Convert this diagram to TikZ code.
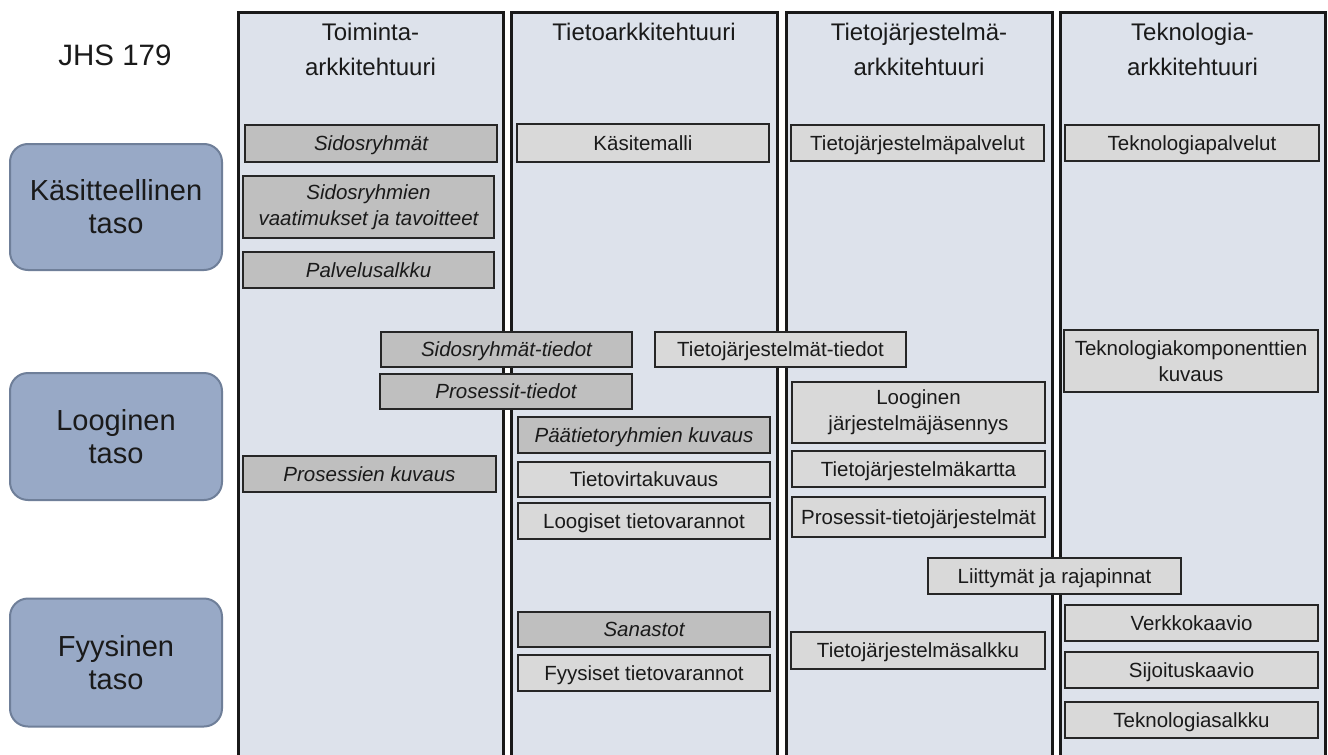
\documentclass[tikz,border=0pt]{standalone}
\usepackage{fontspec}
\setmainfont{Liberation Sans}
\definecolor{colfill}{HTML}{DDE2EB}
\definecolor{darkbox}{HTML}{BFBFBF}
\definecolor{lightbox}{HTML}{D9D9D9}
\definecolor{boxline}{HTML}{262626}
\definecolor{lvlfill}{HTML}{98A9C6}
\definecolor{lvlline}{HTML}{6F7F99}
\definecolor{txt}{HTML}{1A1A1A}
\begin{document}
\begin{tikzpicture}[x=1pt,y=-1pt,
  column/.style={fill=colfill},
  colborder/.style={draw=black!90,line width=3pt},
  coltitle/.style={anchor=north,align=center,inner sep=0pt,text=txt,font=\fontsize{24}{34.5}\selectfont},
  abox/.style={draw=boxline,line width=1.4pt,inner sep=0pt,align=center,text=txt,
    minimum width=252pt,minimum height=36pt,font=\fontsize{20.5}{26}\selectfont,
    text height=14.7pt,text depth=0pt},
  multi/.style={text height=,text depth=},
  dbox/.style={abox,fill=darkbox,font=\fontsize{20.5}{26}\selectfont\itshape},
  lbox/.style={abox,fill=lightbox},
  level/.style={draw=lvlline,line width=2pt,fill=lvlfill,rounded corners=18pt,
    minimum width=212pt,minimum height=126pt,align=center,inner sep=0pt,text=txt,
    font=\fontsize{29}{33}\selectfont}
]
\useasboundingbox (0,0) rectangle (1328,755);
\fill[white] (0,0) rectangle (1328,755);

% columns
\foreach \xa/\xb in {238/503,511/777,786/1052,1060/1325}{
  \fill[column] (\xa,12) rectangle (\xb,755);
  \draw[colborder] (\xa,756) -- (\xa,12) -- (\xb,12) -- (\xb,756);
}

% column titles
\node[coltitle] (c1) at (370.5,23) {Toiminta-\\arkkitehtuuri};
\node[coltitle] (c2) at (644,23) {Tietoarkkitehtuuri};
\node[coltitle] (c3) at (919,23) {Tietojärjestelmä-\\arkkitehtuuri};
\node[coltitle] (c4) at (1192.5,23) {Teknologia-\\arkkitehtuuri};

% title and levels
\node[text=txt,font=\fontsize{29.5}{33}\selectfont,inner sep=0pt] (jhs) at (115,55) {JHS 179};
\node[level] (L1) at (116,207) {Käsitteellinen\\taso};
\node[level,minimum height=127pt] (L2) at (116,436.5) {Looginen\\taso};
\node[level,minimum height=128pt] (L3) at (116,662.5) {Fyysinen\\taso};

% column 1
\node[dbox,minimum height=37pt] (S1) at (371,143.5) {Sidosryhmät};
\node[dbox,multi,minimum width=251pt,minimum height=62pt] (S2) at (368.5,207) {Sidosryhmien\\vaatimukset ja tavoitteet};
\node[dbox,minimum width=251pt] (S3) at (368.5,270) {Palvelusalkku};
\node[dbox,minimum width=251pt,minimum height=35pt] (S4) at (506.5,349.5) {Sidosryhmät-tiedot};
\node[dbox,minimum height=35pt] (S5) at (506,391.5) {Prosessit-tiedot};
\node[dbox,minimum width=253pt] (S6) at (369.5,474) {Prosessien kuvaus};

% column 2
\node[lbox,minimum height=38pt] (T1) at (643,143) {Käsitemalli};
\node[lbox,minimum width=251pt,minimum height=35pt] (T2) at (780.5,349.5) {Tietojärjestelmät-tiedot};
\node[dbox] (T3) at (644,435) {Päätietoryhmien kuvaus};
\node[lbox,minimum height=35pt] (T4) at (644,479.5) {Tietovirtakuvaus};
\node[lbox] (T5) at (644,521) {Loogiset tietovarannot};
\node[dbox,minimum height=35pt] (T6) at (644,629.5) {Sanastot};
\node[lbox] (T7) at (644,673) {Fyysiset tietovarannot};

% column 3
\node[lbox,minimum width=253pt] (J1) at (917.5,143) {Tietojärjestelmäpalvelut};
\node[lbox,multi,minimum width=253pt,minimum height=61pt] (J2) at (918.5,412.5) {Looginen\\järjestelmäjäsennys};
\node[lbox,minimum width=253pt] (J3) at (918.5,469) {Tietojärjestelmäkartta};
\node[lbox,minimum width=253pt,minimum height=40pt] (J4) at (918.5,517) {Prosessit-tietojärjestelmät};
\node[lbox,minimum width=253pt] (J5) at (1054.5,576) {Liittymät ja rajapinnat};
\node[lbox,minimum width=254pt,minimum height=37pt] (J6) at (918,650.5) {Tietojärjestelmäsalkku};

% column 4
\node[lbox,minimum width=254pt] (K1) at (1192,143) {Teknologiapalvelut};
\node[lbox,multi,minimum width=254pt,minimum height=62pt] (K2) at (1191,361) {Teknologiakomponenttien\\kuvaus};
\node[lbox,minimum width=253pt] (K3) at (1191.5,623) {Verkkokaavio};
\node[lbox,minimum width=253pt] (K4) at (1191.5,670) {Sijoituskaavio};
\node[lbox,minimum width=253pt] (K5) at (1191.5,720) {Teknologiasalkku};
\end{tikzpicture}
\end{document}
